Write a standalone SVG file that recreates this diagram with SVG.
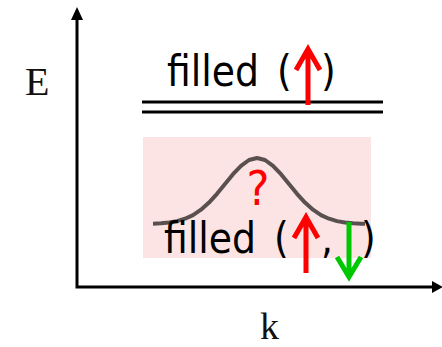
<svg xmlns="http://www.w3.org/2000/svg" width="442" height="347" viewBox="0 0 442 347">
<style>
.lbl{font-family:"DejaVu Sans Condensed","DejaVu Sans",sans-serif;font-stretch:condensed;font-size:42px;fill:#000}
.ser{font-family:"Liberation Serif",serif;font-size:40px;fill:#111}
.up{stroke:#ff0000;stroke-width:5;fill:none;stroke-linejoin:miter}
.dn{stroke:#00c800;stroke-width:5;fill:none}
</style>
<rect width="442" height="347" fill="#fff"/>
<g id="band">
<rect x="143" y="137" width="228" height="121" fill="#fde4e4"/>
<polyline points="153,223.7 161,223.3 169,222.5 177,221.1 185,218.7 193,215.1 201,209.7 209,202.6 217,193.8 225,184 233,174.2 241,165.8 249,160 257,158 265,160 273,165.8 281,174.2 289,184 297,193.8 305,202.6 313,209.7 321,215.1 329,218.7 337,221.1 345,222.5 353,223.3 361,223.7 365,223.8" fill="none" stroke="#5a5050" stroke-width="4" stroke-linejoin="round"/>
<text x="258" y="205" text-anchor="middle" class="lbl" style="font-size:48px;fill:#ff0000">?</text>
<text class="lbl" x="164" y="253" word-spacing="6">filled (</text>
<text class="lbl" x="321" y="253">,</text>
<text class="lbl" x="361" y="253">)</text>
<path class="up" d="M306,273 V218 M294,238 L306,217 L318,238"/>
<path class="dn" d="M349,222 V276 M337,257 L349,277 L361,257"/>
</g>
<g id="level">
<line x1="142" y1="102" x2="383" y2="102" stroke="#000" stroke-width="3"/>
<line x1="142" y1="112" x2="383" y2="112" stroke="#000" stroke-width="3"/>
<text class="lbl" x="167" y="86" word-spacing="6">filled (</text>
<text class="lbl" x="321" y="86">)</text>
<path class="up" d="M308,105 V50 M296,70 L308,49 L320,70"/>
</g>
<g id="axes">
<path d="M77,18 V287 H434" fill="none" stroke="#000" stroke-width="3"/>
<path d="M77,7 L71,20 L83,20 Z" fill="#000"/>
<path d="M443,287 L432,281 L432,293 Z" fill="#000"/>
<text class="ser" x="25" y="95">E</text>
<text class="ser" x="260" y="339" style="font-size:38px">k</text>
</g>
</svg>
